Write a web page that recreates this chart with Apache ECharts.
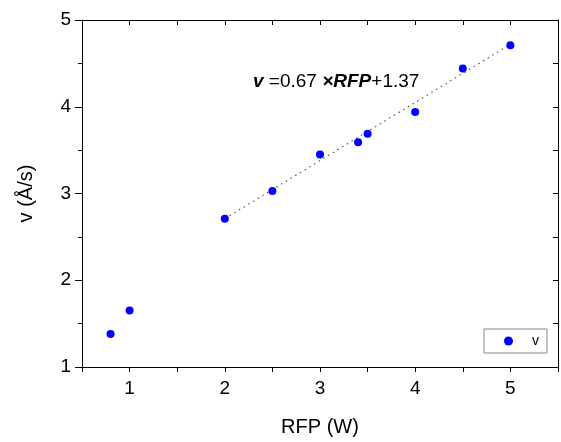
<!DOCTYPE html>
<html>
<head>
<meta charset="utf-8">
<script src="https://cdn.jsdelivr.net/npm/echarts@6/dist/echarts.min.js"></script>
<style>html,body{margin:0;padding:0;background:#fff;}#c{width:561px;height:442px;}</style>
</head>
<body>
<div id="c"></div>
<script>
var rfp = [0.8, 1.0, 2.0, 2.5, 3.0, 3.4, 3.5, 4.0, 4.5, 5.0];
var vRate = [1.38, 1.65, 2.71, 3.03, 3.45, 3.59, 3.69, 3.94, 4.44, 4.71];
var fitX = [2.0, 5.0];
var fitY = [2.71, 4.72];
var xTicks = [1, 2, 3, 4, 5];
var yTicks = [1, 2, 3, 4, 5];
var seriesName = 'v';

var chart = echarts.init(document.getElementById('c'), null, {renderer: 'canvas'});
var font = 'Liberation Sans, Arial, sans-serif';
var axBase = {
  axisLine: {show: true, lineStyle: {color: '#000', width: 1}},
  splitLine: {show: false}
};
chart.setOption({
  animation: false,
  backgroundColor: '#fff',
  grid: {left: 82, right: 1, top: 20, bottom: 72, containLabel: false},
  legend: {
    data: [{name: seriesName, icon: 'circle'}],
    right: 14, top: 329,
    itemWidth: 9, itemHeight: 9, itemGap: 0,
    padding: [5, 8, 5, 20],
    borderColor: '#888', borderWidth: 1,
    textStyle: {fontFamily: font, fontSize: 14, color: '#000', padding: [0, 0, 0, 14]}
  },
  xAxis: [
    Object.assign({}, axBase, {
      type: 'value', min: 0.5, max: 5.5, interval: 0.5,
      name: 'RFP (W)', nameLocation: 'middle', nameGap: 50,
      nameTextStyle: {fontFamily: font, fontSize: 20, color: '#000'},
      axisTick: {show: true, inside: false, length: 5, lineStyle: {color: '#000'}},
      axisLabel: {fontFamily: font, fontSize: 19, color: '#000', margin: 12,
        formatter: function (v) { return xTicks.indexOf(v) >= 0 ? String(v) : ''; }}
    }),
    Object.assign({}, axBase, {
      type: 'value', min: 0.5, max: 5.5, interval: 0.5, position: 'top',
      axisTick: {show: true, inside: true, length: 5, lineStyle: {color: '#000'}},
      axisLabel: {show: false}
    })
  ],
  yAxis: [
    Object.assign({}, axBase, {
      type: 'value', min: 1, max: 5, interval: 1,
      name: 'v (Å/s)', nameLocation: 'middle', nameGap: 46,
      nameTextStyle: {fontFamily: font, fontSize: 20, color: '#000'},
      axisTick: {show: true, inside: false, length: 7, lineStyle: {color: '#000'}},
      minorTick: {show: true, splitNumber: 2, length: 4, lineStyle: {color: '#000'}},
      axisLabel: {fontFamily: font, fontSize: 19, color: '#000', margin: 11,
        formatter: function (v) { return yTicks.indexOf(v) >= 0 ? String(v) : ''; }}
    }),
    Object.assign({}, axBase, {
      type: 'value', min: 1, max: 5, interval: 0.5, position: 'right',
      axisTick: {show: true, inside: true, length: 5, lineStyle: {color: '#000'}},
      axisLabel: {show: false}
    })
  ],
  series: [
    {
      name: 'fit', type: 'line', xAxisIndex: 0, yAxisIndex: 0,
      data: fitX.map(function (x, i) { return [x, fitY[i]]; }),
      symbol: 'none', silent: true,
      lineStyle: {color: '#555', width: 1.2, type: [1.5, 4]},
      z: 1
    },
    {
      name: seriesName, type: 'scatter', xAxisIndex: 0, yAxisIndex: 0,
      data: rfp.map(function (x, i) { return [x, vRate[i]]; }),
      symbol: 'circle', symbolSize: 8,
      itemStyle: {color: '#0000ff', opacity: 1},
      z: 3
    }
  ],
  graphic: [{
    type: 'text', left: 253, top: 72,
    style: {
      text: '{b|v} =0.67 {b|×}{b|RFP}+1.37',
      rich: {
        b: {fontFamily: font, fontSize: 19, fontWeight: 'bold', fontStyle: 'italic', fill: '#000'}
      },
      font: '19px ' + font, fill: '#000'
    }
  }]
});
</script>
</body>
</html>
